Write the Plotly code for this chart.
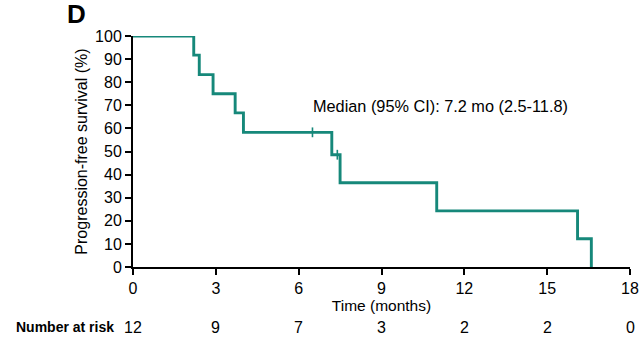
import plotly.graph_objects as go

# Kaplan-Meier step data (months, % survival)
times = [0, 2.2, 2.4, 2.9, 3.7, 4.0, 7.2, 7.5, 11.0, 16.1, 16.6]
surv = [100, 91.7, 83.3, 75.0, 66.7, 58.3, 48.6, 36.5, 24.3, 12.2, 0]
censor_t = [6.5, 7.4]
censor_s = [58.3, 48.6]
risk_t = [0, 3, 6, 9, 12, 15, 18]
risk_n = [12, 9, 7, 3, 2, 2, 0]

color = "#16887a"
fig = go.Figure()
fig.add_trace(go.Scatter(x=times, y=surv, mode="lines", line=dict(shape="hv", color=color, width=2.9),
                         showlegend=False, hoverinfo="skip"))
fig.add_trace(go.Scatter(x=censor_t, y=censor_s, mode="markers",
                         marker=dict(symbol="line-ns-open", size=7, color=color, line=dict(color=color, width=1.6)),
                         showlegend=False, hoverinfo="skip"))

font = "Liberation Sans, Arial, sans-serif"
fig.update_layout(
    width=640, height=337, margin=dict(l=133, r=10, t=36, b=70),
    paper_bgcolor="white", plot_bgcolor="white",
    font=dict(family=font, size=15, color="black"),
    xaxis=dict(range=[0, 18], tickvals=[0, 3, 6, 9, 12, 15, 18], showgrid=False, zeroline=False,
               showline=True, linecolor="black", linewidth=2, ticks="outside", ticklen=6, tickwidth=2,
               tickcolor="black", tickfont=dict(size=16), automargin=False,
               title=dict(text="Time (months)", font=dict(size=15.5), standoff=0)),
    yaxis=dict(range=[0, 100], tickvals=list(range(0, 101, 10)), showgrid=False, zeroline=False,
               showline=True, linecolor="black", linewidth=2, ticks="outside", ticklen=6, tickwidth=2,
               tickcolor="black", tickfont=dict(size=16), automargin=False,
               title=dict(text="Progression-free survival (%)", font=dict(size=16), standoff=3)),
)
fig.add_annotation(text="Median (95% CI): 7.2 mo (2.5-11.8)", x=6.45, y=69.5, xref="x", yref="y",
                   xanchor="left", yanchor="middle", showarrow=False, font=dict(size=16.3))
fig.add_annotation(text="<b>D</b>", x=-0.137, y=1.02, xref="paper", yref="paper",
                   xanchor="left", yanchor="bottom", showarrow=False, font=dict(size=26))
fig.add_annotation(text="<b>Number at risk</b>", x=-0.24, y=-0.26, xref="paper", yref="paper",
                   xanchor="left", yanchor="middle", showarrow=False, font=dict(size=14))
for t, n in zip(risk_t, risk_n):
    fig.add_annotation(text=str(n), x=t, y=-0.26, xref="x", yref="paper",
                       xanchor="center", yanchor="middle", showarrow=False, font=dict(size=16))

fig.write_html("out.html")
